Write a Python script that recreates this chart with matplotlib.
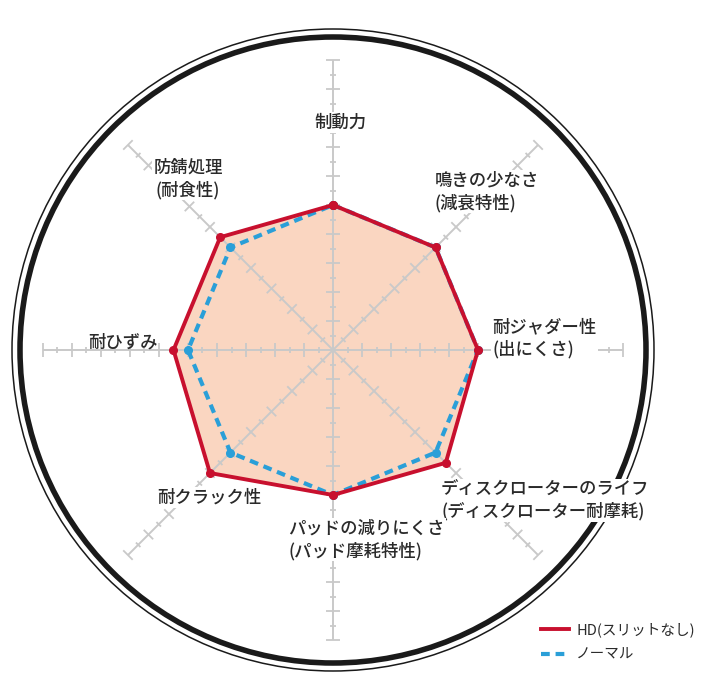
import numpy as np
import matplotlib.pyplot as plt
from matplotlib.patches import Circle
from matplotlib.lines import Line2D
from matplotlib.collections import LineCollection

plt.rcParams['font.family'] = ['Noto Sans CJK JP', 'DejaVu Sans']

# === Data ===
labels = [
    '制動力',
    '鳴きの少なさ\n(減衰特性)',
    '耐ジャダー性\n(出にくさ)',
    'ディスクローターのライフ\n(ディスクローター耐摩耗)',
    'パッドの減りにくさ\n(パッド摩耗特性)',
    '耐クラック性',
    '耐ひずみ',
    '防錆処理\n(耐食性)',
]
hd_values = [10, 10, 10, 11, 10, 12, 11, 11]
normal_values = [10, 10, 10, 10, 10, 10, 10, 10]
series_names = ['HD(スリットなし)', 'ノーマル']
scale_max = 20

# === Style / layout ===
PX = 14.5          # pixels per scale unit
CX, CY = 333, 350  # centre of the chart in pixels
RED = '#c8102e'
BLUE = '#2a9fd8'
FILL = '#fad6c1'
GRID = '#c9c9c9'
TEXT = '#2a2a2a'

# label anchors in scale units (x, y, ha)
label_pos = [
    (0.5, 15.7, 'center'),
    (7.0, 10.9, 'left'),
    (11.0, 0.8, 'left'),
    (7.45, -10.4, 'left'),
    (-3.1, -13.1, 'left'),
    (-8.5, -10.15, 'center'),
    (-14.5, 0.5, 'center'),
    (-10.0, 11.8, 'center'),
]

n = len(labels)
angles = np.pi / 2 - np.arange(n) * 2 * np.pi / n

fig = plt.figure(figsize=(7.2, 6.97), dpi=100)
ax = fig.add_axes([0, 0, 1, 1])
ax.set_xlim(-CX / PX, (720 - CX) / PX)
ax.set_ylim(-(697 - CY) / PX, CY / PX)
ax.axis('off')

# outer double ring
ax.add_patch(Circle((0, 0), 313 / PX, fill=False, lw=4.0, color='#1a1a1a', zorder=1))
ax.add_patch(Circle((0, 0), 321 / PX, fill=False, lw=1.1, color='#1a1a1a', zorder=1))

# filled HD area
hx = np.array(hd_values) * np.cos(angles)
hy = np.array(hd_values) * np.sin(angles)
ax.fill(hx, hy, color=FILL, lw=0, zorder=2)

# spokes with tick marks
segs = []
for a in angles:
    c, s = np.cos(a), np.sin(a)
    ax.plot([0, scale_max * c], [0, scale_max * s], color=GRID, lw=1.4, zorder=3,
            solid_capstyle='butt')
    for i in range(1, scale_max + 1):
        half = 0.46 if i % 2 == 0 else 0.22
        px_, py_ = i * c, i * s
        segs.append([(px_ - half * s, py_ + half * c), (px_ + half * s, py_ - half * c)])
ax.add_collection(LineCollection(segs, colors=GRID, linewidths=1.3, zorder=3))

# normal (dashed blue)
nx = np.array(normal_values) * np.cos(angles)
ny = np.array(normal_values) * np.sin(angles)
ax.plot(np.append(nx, nx[0]), np.append(ny, ny[0]), color=BLUE, lw=3.0,
        ls=(0, (2.1, 1.4)), marker='o', ms=5.5, zorder=4)

# HD (solid red)
ax.plot(np.append(hx, hx[0]), np.append(hy, hy[0]), color=RED, lw=2.8,
        marker='o', ms=5.5, solid_joinstyle='miter', zorder=5)

# axis labels
for i, (lab, (x, y, ha)) in enumerate(zip(labels, label_pos)):
    box = None if i == 6 else dict(facecolor='white', edgecolor='none', pad=1)
    ax.text(x, y, lab, ha=ha, va='center', fontsize=12.5, color=TEXT,
            fontweight='medium', linespacing=1.25,
            multialignment=ha if ha != 'center' else 'center',
            bbox=box, zorder=6)

# legend
handles = [
    Line2D([], [], color=RED, lw=2.8),
    Line2D([], [], color=BLUE, lw=3.0, ls=(0, (2.1, 1.4))),
]
fig.legend(handles, series_names, loc='upper left',
           bbox_to_anchor=(541 / 720, 1 - 622 / 697), frameon=False,
           fontsize=10.5, handlelength=1.9, handletextpad=0.5,
           labelspacing=0.75, borderpad=0, borderaxespad=0,
           labelcolor=TEXT)

fig.savefig('out.png', dpi=100)
